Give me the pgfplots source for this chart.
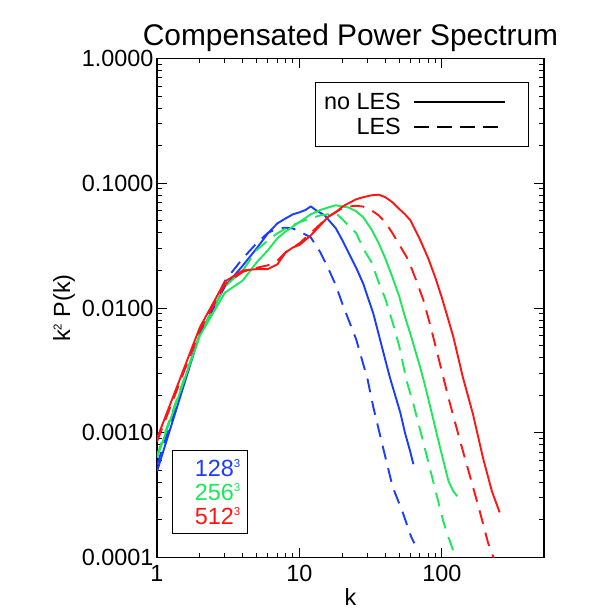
\documentclass[border=0pt]{standalone}
\usepackage{fontspec}
\setmainfont{Liberation Sans}
\usepackage{pgfplots}
\pgfplotsset{compat=1.18}
\definecolor{cblue}{RGB}{25,60,255}
\definecolor{cgreen}{RGB}{30,232,90}
\definecolor{cred}{RGB}{255,20,20}
\newcommand{\cub}[1]{\raisebox{8.5bp}{\fontsize{11.5}{11.5}\selectfont #1}}
\begin{document}
\begin{tikzpicture}
\begin{axis}[name=ax, scale only axis, width=387bp, height=499bp,
  xmode=log, ymode=log, xmin=1, xmax=520, ymin=1e-4, ymax=1,
  xtick={1,10,100}, xticklabels={1,10,100},
  ytick={0.0001,0.001,0.01,0.1,1}, yticklabels={0.0001,0.0010,0.0100,0.1000,1.0000},
  /pgf/number format/assume math mode=true,
  tick label style={font=\fontsize{23.5}{24}\selectfont},
  xticklabel style={yshift=-4bp},
  major tick length=10bp, minor tick length=5bp,
  axis line style={line width=1.2bp},
  every tick/.style={black, line width=1bp},
  title={Compensated Power Spectrum},
  title style={font=\fontsize{30}{30}\selectfont, yshift=-3bp},
  xlabel={k}, ylabel={k\cub{2} P(k)},
  label style={font=\fontsize{23.5}{24}\selectfont},
  every axis plot/.append style={line width=1.9bp, line join=round},
  legend plot pos=right,
  legend image code/.code={\draw[#1, line width=1.9bp] (0bp,0bp) -- (91bp,0bp); \path (108bp,0bp);},
  legend style={at={(rel axis cs:0.961,0.9535)}, anchor=north east, draw=black, line width=1bp,
    font=\fontsize{23.5}{24}\selectfont, inner xsep=5.7bp, inner ysep=7.5bp,
    nodes={inner ysep=3.5bp, inner xsep=3bp}, column sep=9bp},
  legend cell align=right,
]
% 128^3
\addplot[cblue, forget plot] coordinates {(1,0.00049)(2,0.0062)(3,0.0149)(4,0.0219)(5,0.030)(6,0.0397)(7,0.0477)(8,0.0523)(9,0.0564)(10,0.0585)(11,0.061)(12,0.0653)(13,0.061)(15,0.0553)(18,0.0435)(20,0.0349)(25,0.021)(28,0.0157)(33,0.009)(38.6,0.0045)(43,0.0028)(51,0.00145)(55,0.0010)(60,0.0007)(63,0.00056)};
\addplot[cblue, dash pattern=on 14bp off 9bp, forget plot] coordinates {(1,0.00055)(2,0.0063)(3,0.0165)(4,0.025)(5,0.033)(6,0.040)(7,0.0434)(8,0.044)(9,0.0434)(10,0.0411)(12,0.0368)(14,0.028)(16,0.0205)(18,0.0152)(20,0.0108)(25,0.0056)(30,0.0027)(33,0.0016)(38.6,0.00076)(45,0.00037)(53,0.00023)(61,0.000145)(64,0.00013)};
% 256^3
\addplot[cgreen, forget plot] coordinates {(1,0.00063)(2,0.0060)(3,0.0133)(4,0.0166)(5,0.0232)(6,0.029)(7,0.0362)(8,0.0411)(9,0.0451)(10,0.0487)(12,0.0564)(14,0.061)(16,0.0641)(18,0.0666)(20,0.065)(22,0.064)(25,0.0596)(28,0.0534)(32,0.0427)(36,0.033)(40,0.025)(45,0.0175)(50,0.0125)(55,0.0085)(60,0.0062)(70,0.0034)(76,0.0024)(85,0.00142)(97,0.00076)(111,0.00041)(120,0.00034)(128,0.00031)};
\addplot[cgreen, dash pattern=on 14bp off 9bp, forget plot] coordinates {(1,0.00066)(2,0.0062)(3,0.0149)(4,0.020)(5,0.029)(6,0.0349)(7,0.0397)(8,0.0434)(10,0.0487)(12,0.0523)(14,0.0553)(16,0.0564)(18,0.0575)(20,0.0515)(22,0.046)(25,0.0398)(28,0.030)(32,0.0233)(36,0.016)(40,0.0119)(45,0.0077)(50,0.005)(56.5,0.0026)(63,0.0017)(73.6,0.00086)(86.6,0.00041)(102,0.000196)(110,0.00015)(120,0.000113)(128,0.0001)};
% 512^3
\addplot[cred, forget plot] coordinates {(1,0.0009)(2,0.0070)(3,0.0163)(4,0.020)(5,0.0205)(6,0.0205)(7,0.0224)(8,0.0279)(9,0.0306)(10,0.032)(12,0.0382)(14,0.046)(16,0.0543)(18,0.0585)(20,0.065)(22,0.069)(25,0.0744)(28,0.0773)(32,0.0801)(36,0.081)(40,0.0773)(45,0.0703)(50,0.0624)(55,0.0564)(60,0.0505)(70,0.0355)(80,0.0251)(90,0.0174)(100,0.012)(110,0.0083)(120,0.0059)(140,0.0028)(165,0.00141)(194,0.00063)(224,0.00034)(254,0.00023)};
\addplot[cred, dash pattern=on 14bp off 9bp, forget plot] coordinates {(1,0.00085)(2,0.0066)(3,0.0155)(4,0.0195)(5,0.021)(6,0.022)(7,0.024)(8,0.028)(10,0.033)(12,0.040)(14,0.047)(16,0.054)(18,0.059)(20,0.063)(22,0.065)(25,0.066)(28,0.065)(32,0.0607)(36,0.0553)(40,0.0487)(45,0.0397)(50,0.0324)(56.5,0.0256)(60,0.022)(66,0.0166)(74,0.0116)(83,0.0072)(92,0.0045)(102,0.0028)(114,0.0017)(134,0.00086)(158,0.00044)(185,0.00023)(211,0.00013)(230,0.0001)(256,0.00007)};
\addlegendimage{black, solid}
\addlegendentry{no LES}
\addlegendimage{black, dash pattern=on 15bp off 8bp}
\addlegendentry{LES}
\node[draw, line width=1bp, anchor=north west, text width=61bp, align=right, inner xsep=7bp, minimum height=83bp, font=\fontsize{23.5}{24}\selectfont] at (rel axis cs:0.038,0.2154)
  {\textcolor{cblue}{128\cub{3}}\\\textcolor{cgreen}{256\cub{3}}\\\textcolor{cred}{512\cub{3}}};
\end{axis}
\pgfresetboundingbox
\path ([shift={(-157bp,-56.5bp)}]ax.south west) rectangle ([shift={(53bp,58.5bp)}]ax.north east);
\end{tikzpicture}
\end{document}
